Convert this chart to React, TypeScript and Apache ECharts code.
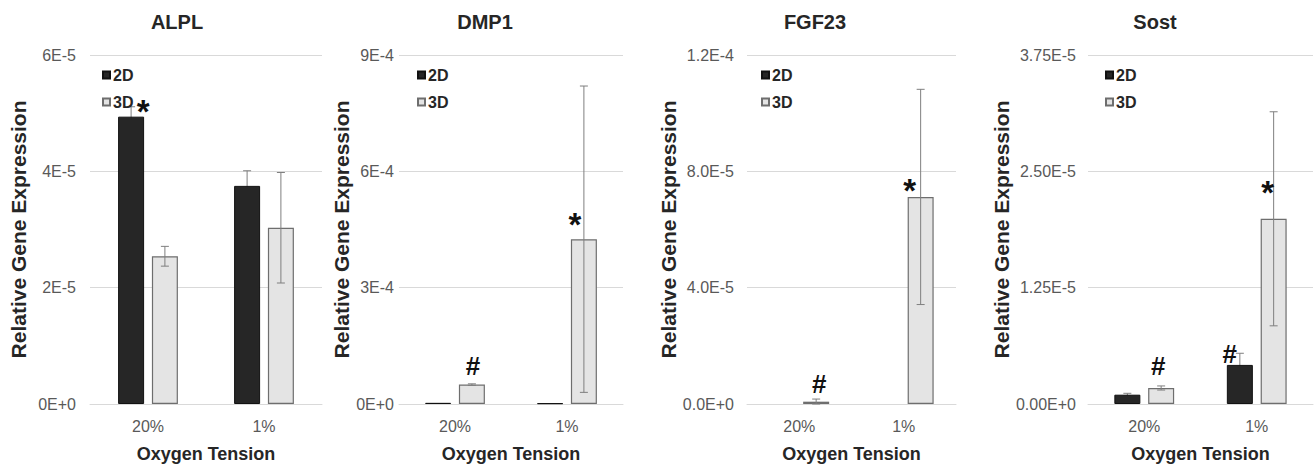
import React, { useEffect, useRef } from "react";
import * as echarts from "echarts";

const categories = ["20%", "1%"];
const genes = ["ALPL", "DMP1", "FGF23", "Sost"];
const yMax = [6e-5, 9e-4, 1.2e-4, 3.75e-5];
const yInterval = [2e-5, 3e-4, 4e-5, 1.25e-5];
const yLabelDigits = [0, 0, 1, 2];

// [20%, 1%]
const mean2D = [
  [4.94e-5, 3.75e-5],
  [3e-6, 2e-6],
  [0, 0],
  [1.0e-6, 4.2e-6],
];
const err2D = [
  [0.17e-5, 0.26e-5],
  [0, 0],
  [0, 0],
  [0.15e-6, 1.25e-6],
];
const mean3D = [
  [2.54e-5, 3.03e-5],
  [5.0e-5, 4.25e-4],
  [0.8e-6, 7.12e-5],
  [1.72e-6, 1.99e-5],
];
const err3D = [
  [0.17e-5, 0.95e-5],
  [0.2e-5, 3.95e-4],
  [0.9e-6, 3.7e-5],
  [0.22e-6, 1.15e-5],
];

// significance marks: [category index, bar (0=2D,1=3D), value level, text, x nudge px]
const marks: [number, number, number, string, number][][] = [
  [[0, 0, 5.16e-5, "*", 12]],
  [
    [1, 1, 4.83e-4, "*", -9],
    [0, 1, 0.98e-4, "#", 1],
  ],
  [
    [1, 1, 7.61e-5, "*", -11],
    [0, 1, 0.69e-5, "#", 3],
  ],
  [
    [1, 1, 2.357e-5, "*", -6],
    [0, 1, 0.407e-5, "#", -3],
    [1, 0, 0.536e-5, "#", -10],
  ],
];

const W = 1315;
const H = 468;
const gridLeft = [90, 399, 747, 1088];
const gridRight = [322, 623, 956, 1313];
const gridTop = 55;
const gridBottom = 405;
const titleX = [177, 485, 815, 1155];
const yNameGap = [61, 39, 58, 70];
const yLabelMargin = [14, 5, 13, 12];
const legendLeft = [97, 412, 756, 1100];

const BAR_W = 26;
const BAR_GAP = 0.3;
const FONT = "'Liberation Sans', Arial, sans-serif";
const DARK = "#262626";
const LIGHT = "#e4e4e4";
const ERR = "#7f7f7f";

function fmt(v: number, d: number) {
  return v.toExponential(d).replace("e", "E");
}

function barData(vals: number[]) {
  return vals.map((v) => (v === 0 ? { value: 0, itemStyle: { borderWidth: 0 } } : v));
}

export default function App() {
  const ref = useRef<HTMLDivElement>(null);
  useEffect(() => {
    document.body.style.margin = "0";
    const chart = echarts.init(ref.current!, null, { renderer: "svg" });
    const off = (BAR_W + BAR_W * BAR_GAP) / 2;

    const grid: any[] = [];
    const xAxis: any[] = [];
    const yAxis: any[] = [];
    const legend: any[] = [];
    const series: any[] = [];
    const graphic: any[] = [];

    genes.forEach((g, i) => {
      grid.push({
        left: gridLeft[i],
        width: gridRight[i] - gridLeft[i],
        top: gridTop,
        height: gridBottom - gridTop,
        containLabel: false,
      });
      xAxis.push({
        type: "category",
        gridIndex: i,
        data: categories,
        axisLine: { show: true, lineStyle: { color: "#d9d9d9", width: 1 } },
        axisTick: { show: false },
        axisLabel: { margin: 14, fontSize: 16, color: "#595959", fontFamily: FONT },
        name: "Oxygen Tension",
        nameLocation: "middle",
        nameGap: 41,
        nameTextStyle: { fontSize: 18, fontWeight: "bold", color: DARK, fontFamily: FONT },
      });
      yAxis.push({
        type: "value",
        gridIndex: i,
        min: 0,
        max: yMax[i],
        interval: yInterval[i],
        axisLine: { show: false },
        axisTick: { show: false },
        splitLine: { lineStyle: { color: "#d9d9d9", width: 1 } },
        axisLabel: {
          margin: yLabelMargin[i],
          fontSize: 16,
          color: "#595959",
          fontFamily: FONT,
          formatter: (v: number) => fmt(v, yLabelDigits[i]),
        },
        name: "Relative Gene Expression",
        nameLocation: "middle",
        nameGap: yNameGap[i],
        nameTextStyle: { fontSize: 21, fontWeight: "bold", color: DARK, fontFamily: FONT },
      });
      legend.push({
        data: ["2D", "3D"],
        orient: "vertical",
        left: legendLeft[i],
        top: 62,
        icon: "rect",
        itemWidth: 7,
        itemHeight: 7,
        itemGap: 11,
        selectedMode: false,
        textStyle: { fontSize: 16, fontWeight: "bold", color: DARK, fontFamily: FONT, padding: [0, 0, 0, -2] },
      });
      series.push({
        type: "bar",
        name: "2D",
        xAxisIndex: i,
        yAxisIndex: i,
        data: barData(mean2D[i]),
        barWidth: BAR_W,
        barGap: BAR_GAP * 100 + "%",
        z: 2,
        itemStyle: { color: DARK, borderColor: "#111", borderWidth: 1 },
      });
      series.push({
        type: "bar",
        name: "3D",
        xAxisIndex: i,
        yAxisIndex: i,
        data: barData(mean3D[i]),
        barWidth: BAR_W,
        barGap: BAR_GAP * 100 + "%",
        z: 2,
        itemStyle: { color: LIGHT, borderColor: "#6e6e6e", borderWidth: 1.2 },
      });
      [
        { m: mean2D[i], e: err2D[i], b: 0, z: 1 },
        { m: mean3D[i], e: err3D[i], b: 1, z: 3 },
      ].forEach(({ m, e, b, z }) => {
        const data = m
          .map((v, c) => [c, v, e[c]])
          .filter((d) => d[2] > 0);
        series.push({
          type: "custom",
          name: "err" + b,
          xAxisIndex: i,
          yAxisIndex: i,
          z,
          clip: false,
          data,
          renderItem: (params: any, api: any) => {
            const c = api.value(0);
            const v = api.value(1);
            const er = api.value(2);
            const top = api.coord([c, v + er]);
            const bot = api.coord([c, Math.max(0, v - er)]);
            const x = top[0] + (b === 0 ? -off : off);
            const st = { stroke: ERR, lineWidth: 1 };
            return {
              type: "group",
              children: [
                { type: "line", shape: { x1: x, y1: top[1], x2: x, y2: bot[1] }, style: st },
                { type: "line", shape: { x1: x - 4, y1: top[1], x2: x + 4, y2: top[1] }, style: st },
                { type: "line", shape: { x1: x - 4, y1: bot[1], x2: x + 4, y2: bot[1] }, style: st },
              ],
            };
          },
        });
      });
      const mk = marks[i];
      series.push({
        type: "custom",
        name: "marks",
        xAxisIndex: i,
        yAxisIndex: i,
        z: 5,
        clip: false,
        data: mk.map((m) => [m[0], m[2]]),
        renderItem: (params: any, api: any) => {
          const m = mk[params.dataIndex];
          const p = api.coord([m[0], m[2]]);
          const isStar = m[3] === "*";
          return {
            type: "text",
            x: p[0] + (m[1] === 0 ? -off : off) + m[4],
            y: p[1] + (isStar ? 8 : 0),
            style: {
              text: m[3],
              align: "center",
              verticalAlign: "middle",
              fontSize: isStar ? 33 : 26,
              fontWeight: "bold",
              fontFamily: FONT,
              fill: "#111",
            },
          };
        },
      });
      graphic.push({
        type: "text",
        x: titleX[i],
        y: 22,
        style: {
          text: g,
          align: "center",
          verticalAlign: "middle",
          fontSize: 20,
          fontWeight: "bold",
          fontFamily: FONT,
          fill: DARK,
        },
      });
    });

    chart.setOption({
      animation: false,
      backgroundColor: "#fff",
      grid,
      xAxis,
      yAxis,
      legend,
      series,
      graphic,
    });
    return () => chart.dispose();
  }, []);
  return <div ref={ref} style={{ width: W, height: H }} />;
}
